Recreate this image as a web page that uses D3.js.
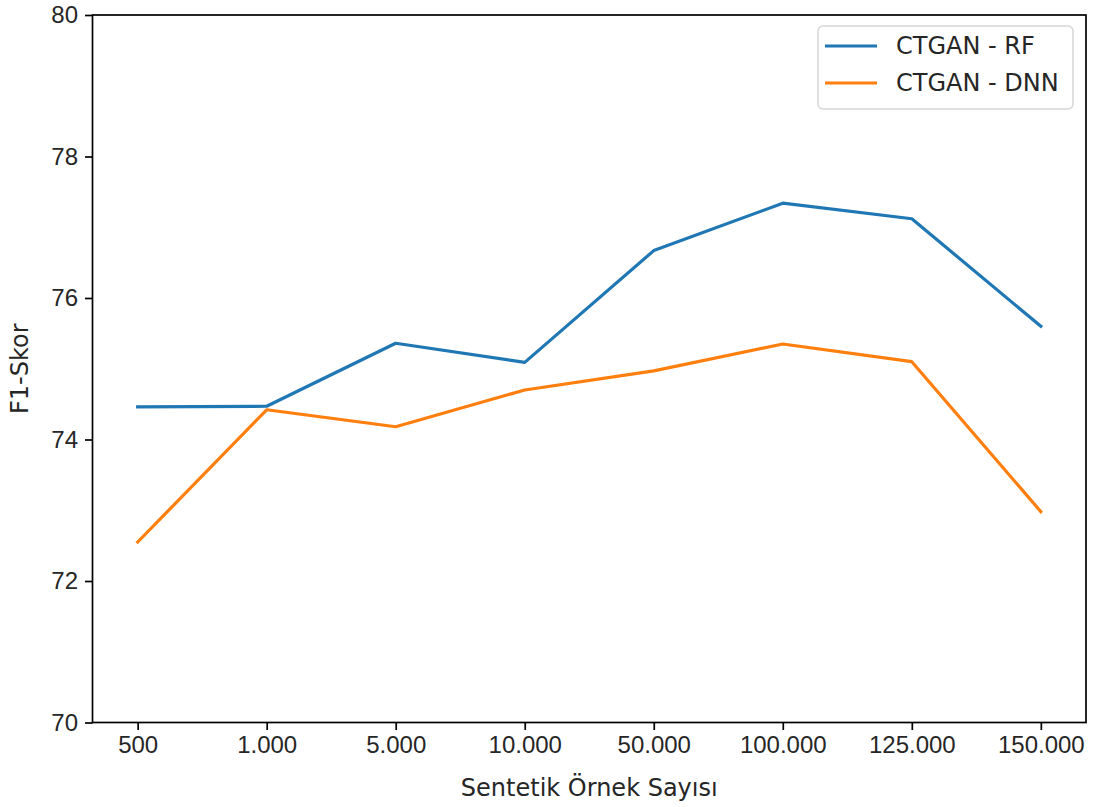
<!DOCTYPE html>
<html>
<head>
<meta charset="utf-8">
<script src="https://cdn.jsdelivr.net/npm/d3@7"></script>
<style>
  html, body { margin: 0; padding: 0; background: #fff; }
  svg { display: block; font-family: "DejaVu Sans", sans-serif; }
</style>
</head>
<body>
<svg id="chart" width="1095" height="807"></svg>
<script>
// Sample counts on the x axis
const categories = ["500", "1.000", "5.000", "10.000", "50.000", "100.000", "125.000", "150.000"];
// F1 scores per classifier
const rfValues  = [74.46, 74.47, 75.36, 75.09, 76.67, 77.34, 77.12, 75.60];
const dnnValues = [72.55, 74.42, 74.18, 74.70, 74.97, 75.35, 75.10, 72.98];
const seriesNames = ["CTGAN - RF", "CTGAN - DNN"];
const seriesColors = ["#1f77b4", "#ff7f0e"];
const yTicks = [70, 72, 74, 76, 78, 80];

const series = [
  { name: seriesNames[0], color: seriesColors[0], values: rfValues },
  { name: seriesNames[1], color: seriesColors[1], values: dnnValues }
];

const svg = d3.select("#chart");
const margin = { left: 92.5, right: 1086, top: 15, bottom: 722.5 };
const fontSize = 24;

// index-based x scale with 5% padding on both sides
const n = categories.length;
const pad = (n - 1) * 0.05;
const x = d3.scaleLinear().domain([-pad, n - 1 + pad]).range([margin.left, margin.right]);
const y = d3.scaleLinear().domain([70, 80]).range([margin.bottom, margin.top]);

// x axis
const xAxis = d3.axisBottom(x)
  .tickValues(d3.range(n))
  .tickFormat(i => categories[i])
  .tickSize(7.5)
  .tickPadding(6);
const gx = svg.append("g").attr("transform", `translate(0,${margin.bottom})`).call(xAxis);

// y axis
const yAxis = d3.axisLeft(y)
  .tickValues(yTicks)
  .tickFormat(d3.format("d"))
  .tickSize(7.5)
  .tickPadding(7);
const gy = svg.append("g").attr("transform", `translate(${margin.left},0)`).call(yAxis);

[gx, gy].forEach(g => {
  g.select(".domain").remove();
  g.selectAll(".tick line").attr("stroke", "#000").attr("stroke-width", 1.7);
  g.selectAll(".tick text").attr("fill", "#262626").style("font-size", fontSize + "px");
});

// data lines
const line = d3.line().x((d, i) => x(i)).y(d => y(d));
series.forEach(s => {
  svg.append("path")
    .datum(s.values)
    .attr("fill", "none")
    .attr("stroke", s.color)
    .attr("stroke-width", 3.2)
    .attr("stroke-linejoin", "round")
    .attr("stroke-linecap", "square")
    .attr("d", line);
});

// frame
svg.append("rect")
  .attr("x", margin.left).attr("y", margin.top)
  .attr("width", margin.right - margin.left)
  .attr("height", margin.bottom - margin.top)
  .attr("fill", "none").attr("stroke", "#000").attr("stroke-width", 1.7);

// axis titles
svg.append("text")
  .attr("x", (margin.left + margin.right) / 2).attr("y", 796)
  .attr("text-anchor", "middle").attr("fill", "#262626")
  .style("font-size", fontSize + "px")
  .text("Sentetik Örnek Sayısı");

svg.append("text")
  .attr("transform", `translate(28,${(margin.top + margin.bottom) / 2}) rotate(-90)`)
  .attr("text-anchor", "middle").attr("fill", "#262626")
  .style("font-size", fontSize + "px")
  .text("F1-Skor");

// legend
const legend = svg.append("g").attr("transform", "translate(818,26)");
legend.append("rect")
  .attr("width", 255).attr("height", 83).attr("rx", 5)
  .attr("fill", "#fff").attr("fill-opacity", 0.8)
  .attr("stroke", "#d6d6d6").attr("stroke-width", 1.5);
series.forEach((s, i) => {
  const ly = 20 + i * 37;
  legend.append("line")
    .attr("x1", 7).attr("x2", 59).attr("y1", ly).attr("y2", ly)
    .attr("stroke", s.color).attr("stroke-width", 3.2);
  legend.append("text")
    .attr("x", 78).attr("y", ly + 8)
    .attr("fill", "#262626").style("font-size", fontSize + "px")
    .text(s.name);
});
</script>
</body>
</html>
